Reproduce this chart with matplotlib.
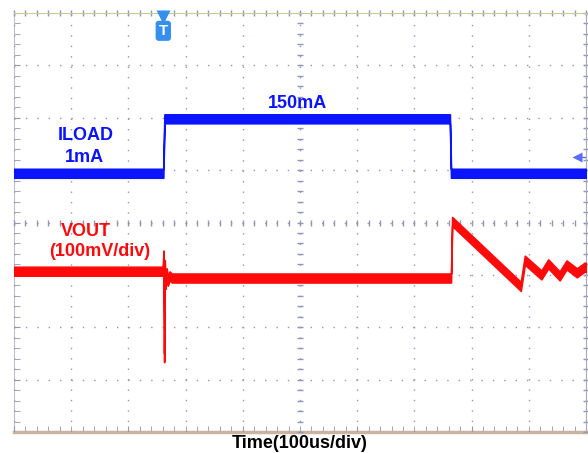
import matplotlib
matplotlib.use('Agg')
import matplotlib.pyplot as plt
from matplotlib.ticker import MultipleLocator
import numpy as np

plt.rcParams['font.family'] = ['Liberation Sans', 'DejaVu Sans']

# scope screen: 10 div x 100 us, 8 div vertical
T_PER_DIV = 100.0      # us/div
MV_PER_DIV = 100.0     # mV/div for VOUT

# ILOAD trace (time in us, level in divisions)
iload_t = [0, 261, 263, 762, 764, 1000]
iload_div = [0.94, 0.94, 1.98, 1.98, 0.94, 0.94]

# VOUT trace (time in us, mV relative to screen centre)
vout_t = [0, 260, 261.5, 262.5, 263.5, 265, 267, 269, 272, 276, 764, 766,
          886, 893, 922, 934, 954, 966, 984, 998, 1000]
vout_mv = [-93, -93, -62, -258, -80, -118, -96, -112, -102, -106, -106, 2,
           -122, -72, -100, -79, -102, -81, -96, -85, -86]

trig_t = 261          # trigger position (us)
iload_ref_div = 1.25  # channel ground marker on the right edge

BLUE = '#0a14ff'
RED = '#ff0a0a'
GRID = '#9494b8'

fig = plt.figure(figsize=(5.88, 4.53), dpi=100, facecolor='white')
ax = fig.add_axes([14 / 588, 21 / 453, 572 / 588, 419 / 453])
ax.set_xlim(0, 10 * T_PER_DIV)
ax.set_ylim(-4, 4)

# dotted graticule
ax.set_xticks(np.arange(0, 1001, 100))
ax.set_yticks(np.arange(-4, 5, 1))
ax.xaxis.grid(True, color=GRID, linestyle=(0, (1, 6.5)), linewidth=1)
ax.yaxis.grid(True, color=GRID, linestyle=(0, (1, 7.2)), linewidth=1)

# centre axes with small ticks
ax.spines['left'].set_position(('data', 500))
ax.spines['bottom'].set_position(('data', 0))
ax.spines['left'].set_color('none')
ax.spines['bottom'].set_color('none')
ax.xaxis.set_minor_locator(MultipleLocator(20))
ax.yaxis.set_minor_locator(MultipleLocator(0.2))
ax.tick_params(which='both', direction='inout', length=4, width=1, color=GRID,
               labelbottom=False, labelleft=False, right=True, top=True)
ax.spines['top'].set_color('#cccc90')
ax.spines['top'].set_linestyle((0, (1, 1)))
ax.spines['right'].set_color('#a8a8b8')
ax.spines['right'].set_linestyle((0, (2, 1)))

# left and bottom edges of the screen
sl = ax.secondary_yaxis('left')
sl.yaxis.set_minor_locator(MultipleLocator(0.2))
sl.tick_params(which='both', direction='in', length=4, color=GRID, labelleft=False)
sl.spines['left'].set_color('#c0c0c8')
sl.spines['left'].set_linestyle((0, (2, 1)))
sb = ax.secondary_xaxis('bottom')
sb.xaxis.set_minor_locator(MultipleLocator(20))
sb.tick_params(which='both', direction='in', length=4, color=GRID, labelbottom=False)
sb.spines['bottom'].set_color('#c8b4a0')
sb.spines['bottom'].set_linewidth(2.5)

# traces drawn as noisy bands
band = 0.085
it = np.array(iload_t)
iv = np.array(iload_div)
ax.fill_between(it, iv - band, iv + band, color=BLUE, lw=1.2, zorder=3)

vt = np.array(vout_t)
vv = np.array(vout_mv) / MV_PER_DIV
ax.fill_between(vt, vv - band, vv + band, color=RED, lw=1.2, zorder=3)

# labels
lab = dict(fontsize=13, fontweight='bold', ha='center', va='center')
ax.text(125, 1.67, 'ILOAD', color=BLUE, **lab)
ax.text(123, 1.25, '1mA', color=BLUE, **lab)
ax.text(495, 2.27, '150mA', color=BLUE, **lab)
ax.text(126, -0.18, 'VOUT', color=RED, **lab)
ax.text(150, -0.55, '(100mV/div)', color=RED, **lab)

# trigger marker and ground marker
ax.plot([trig_t], [3.93], marker='v', ms=10, color='#3490ec', mec='none', clip_on=False, zorder=5)
ax.text(trig_t, 3.66, 'T', color='white', fontsize=11, fontweight='bold', ha='center', va='center',
        bbox=dict(boxstyle='round,pad=0.2', fc='#3490ec', ec='none'), zorder=5)
ax.plot([984], [iload_ref_div], marker='<', ms=7, color='#5a6cff', mec='none', zorder=5)
ax.plot([984, 1000], [iload_ref_div, iload_ref_div], color='#5a6cff', lw=1, zorder=5)

fig.text(300 / 588, 1 - 444 / 453, 'Time(100us/div)', fontsize=13, fontweight='bold',
         ha='center', va='center')

fig.savefig('out.png', dpi=100, facecolor='white')
